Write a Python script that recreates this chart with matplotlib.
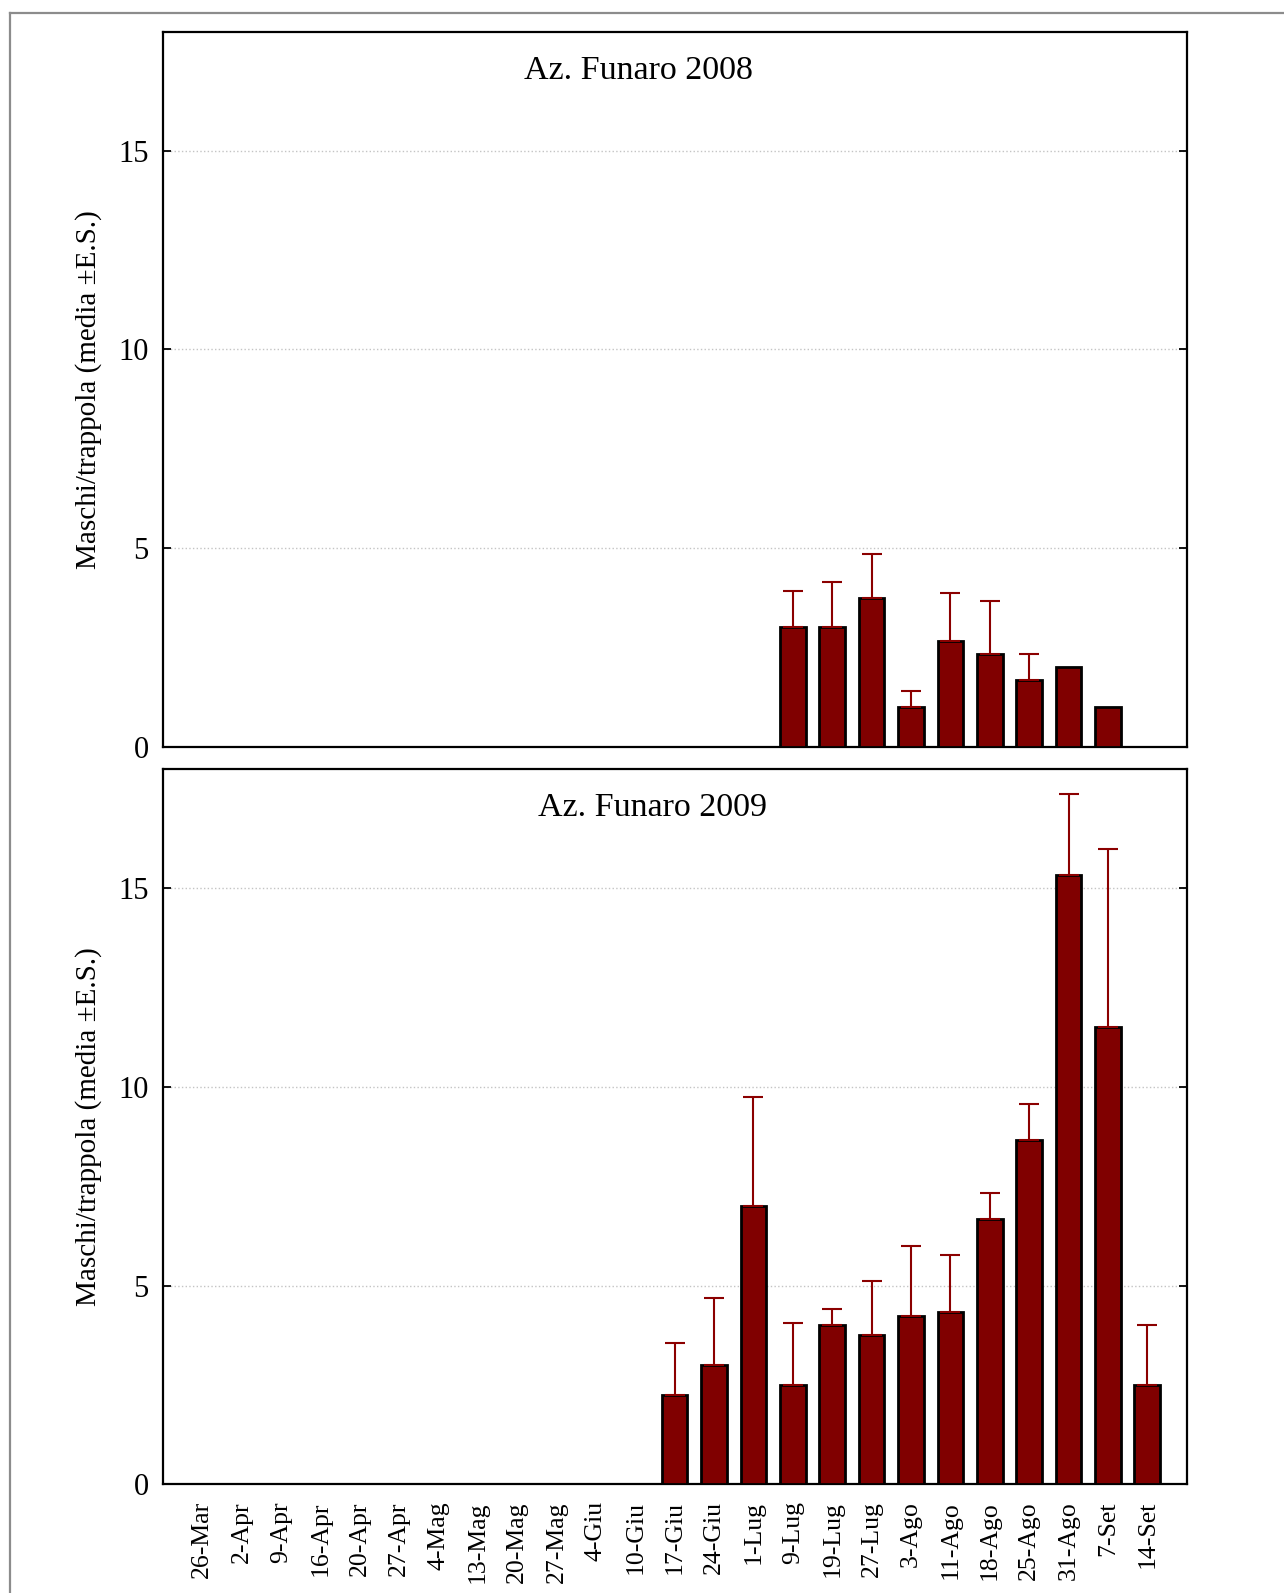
import numpy as np
import matplotlib
matplotlib.use("Agg")
import matplotlib.pyplot as plt
from matplotlib.lines import Line2D

plt.rcParams['font.family'] = ['Liberation Serif', 'DejaVu Serif']

dates = ['26-Mar', '2-Apr', '9-Apr', '16-Apr', '20-Apr', '27-Apr', '4-Mag',
         '13-Mag', '20-Mag', '27-Mag', '4-Giu', '10-Giu', '17-Giu', '24-Giu',
         '1-Lug', '9-Lug', '19-Lug', '27-Lug', '3-Ago', '11-Ago', '18-Ago',
         '25-Ago', '31-Ago', '7-Set', '14-Set']

# 2008: catches start on 9-Lug
mean_2008 = [None] * 15 + [3.0, 3.0, 3.75, 1.0, 2.67, 2.33, 1.67, 2.0, 1.0, None]
se_2008 = [None] * 15 + [0.92, 1.15, 1.1, 0.4, 1.2, 1.33, 0.66, None, None, None]

# 2009: catches start on 17-Giu
mean_2009 = [None] * 12 + [2.25, 3.0, 7.0, 2.5, 4.0, 3.75, 4.25, 4.33, 6.67,
                           8.67, 15.33, 11.5, 2.5]
se_2009 = [None] * 12 + [1.31, 1.69, 2.74, 1.55, 0.41, 1.38, 1.75, 1.45, 0.66,
                         0.91, 2.05, 4.5, 1.5]

titles = ['Az. Funaro 2008', 'Az. Funaro 2009']
title_x = [0.465, 0.4785]
ylabel = 'Maschi/trappola (media \u00b1E.S.)'

fig = plt.figure(figsize=(12.84, 15.93), dpi=100)
ax1 = fig.add_axes([0.1267, 0.5313, 0.7975, 0.4488])
ax2 = fig.add_axes([0.1267, 0.0682, 0.7975, 0.4489])

# grey frame round the picture (open on right and bottom)
fig.add_artist(Line2D([10 / 1284, 1.0], [1 - 13 / 1593] * 2, color='#8c8c8c', lw=1.6))
fig.add_artist(Line2D([10 / 1284] * 2, [0.0, 1 - 13 / 1593], color='#8c8c8c', lw=1.6))


def draw_panel(ax, means, ses, title, tx, show_labels):
    x = np.arange(len(dates))
    idx = [i for i, m in enumerate(means) if m is not None]
    ax.bar(x[idx], [means[i] for i in idx], width=0.65, color='#800000',
           edgecolor='black', linewidth=2.0, zorder=3)
    eidx = [i for i in idx if ses[i] is not None]
    ax.errorbar(x[eidx], [means[i] for i in eidx],
                yerr=[np.zeros(len(eidx)), [ses[i] for i in eidx]],
                fmt='none', ecolor='#8b0000', elinewidth=1.5, capsize=7,
                capthick=1.5, zorder=4)
    ax.set_xlim(-1, 25)
    ax.set_ylim(0, 18)
    ax.set_yticks([0, 5, 10, 15])
    ax.yaxis.grid(True, linestyle=':', color='#c4c4c4', linewidth=1.0, zorder=0)
    ax.set_axisbelow(True)
    ax.tick_params(axis='y', direction='in', length=6, width=1.3,
                   left=True, right=True, labelsize=22, pad=10)
    ax.set_xticks(x)
    ax.set_xticks(x[::2], minor=True)
    if show_labels:
        ax.set_xticklabels(dates, rotation=90, fontsize=18.5)
    else:
        ax.set_xticklabels([])
    ax.tick_params(axis='x', which='major', length=0, pad=12)
    ax.tick_params(axis='x', which='minor', direction='in', length=6,
                   width=1.3, top=True, bottom=True)
    for s in ax.spines.values():
        s.set_linewidth(1.6)
    ax.set_ylabel(ylabel, fontsize=21, labelpad=12)
    ax.text(tx, 0.946, title, transform=ax.transAxes, ha='center',
            va='center', fontsize=24.5)


draw_panel(ax1, mean_2008, se_2008, titles[0], title_x[0], False)
draw_panel(ax2, mean_2009, se_2009, titles[1], title_x[1], True)

fig.savefig('out.png', dpi=100)
